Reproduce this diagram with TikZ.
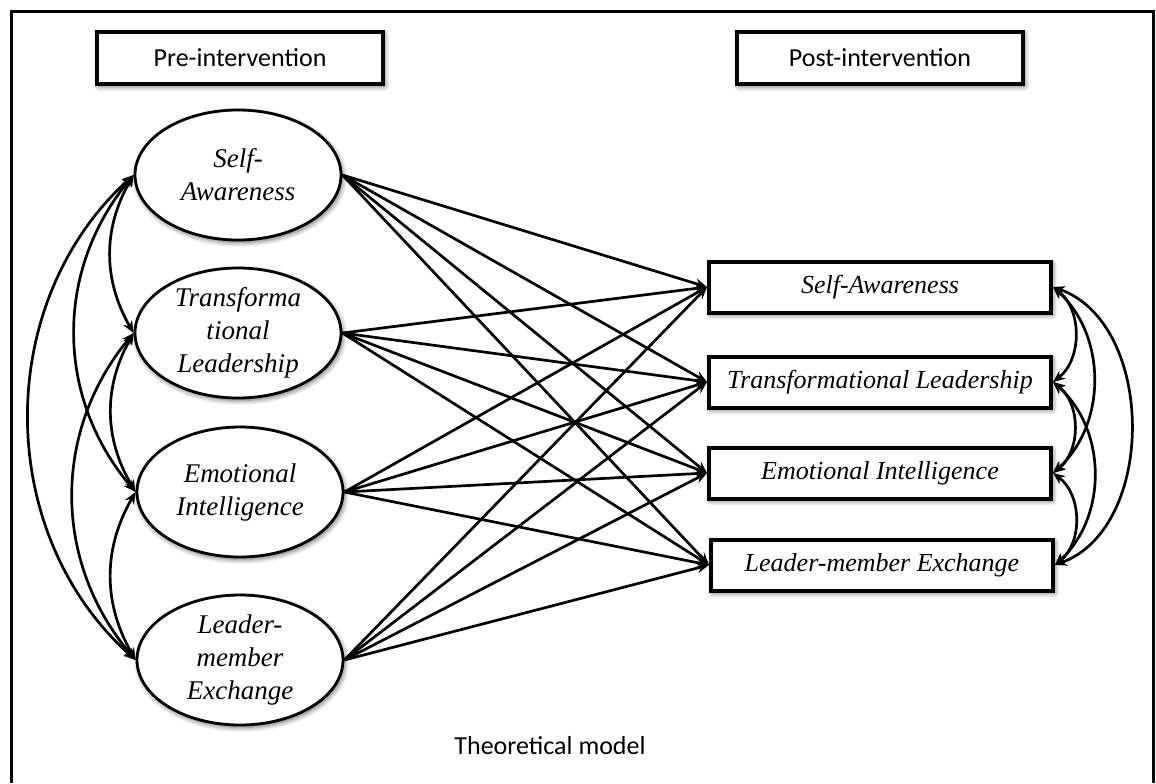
\documentclass[tikz,border=0pt]{standalone}
\usepackage{fontspec}
\setmainfont{Liberation Serif}
\newfontfamily\calibri{Carlito}
\usetikzlibrary{arrows.meta,shapes.geometric,shadows.blur}

\begin{document}
\begin{tikzpicture}[x=0.5pt, y=-0.5pt,
    soft/.style={blur shadow={shadow blur steps=6, shadow xshift=0.8pt, shadow yshift=-1.2pt, shadow opacity=60, shadow blur radius=2.5pt}},
    latent/.style={ellipse, draw, line width=1.4pt, fill=white, soft, minimum width=103pt, minimum height=65pt, inner sep=0pt, align=center, font=\itshape\fontsize{13.5}{16.5}\selectfont},
    outcome/.style={rectangle, draw, line width=2pt, fill=white, soft, minimum width=171pt, minimum height=25.5pt, font=\itshape\fontsize{13}{16}\selectfont},
    header/.style={rectangle, draw, line width=2pt, fill=white, soft, minimum width=143pt, minimum height=26pt, font=\calibri\fontsize{13}{15}\selectfont},
    path/.style={-{Stealth[length=6pt,width=5pt]}, line width=1.35pt},
    cov/.style={{Stealth[length=6pt,width=5pt]}-{Stealth[length=6pt,width=5pt]}, line width=1.35pt}]
    \useasboundingbox (0,0) rectangle (1156,783);
    \draw[line width=1.5pt] (11,783) -- (11,11) -- (1153,11) -- (1153,783);

    \node[header] (pre)  at (240,58) {Pre-intervention};
    \node[header] (post) at (880,58) {Post-intervention};

    \node[latent] (sa) at (238,175) {Self-\\Awareness};
    \node[latent] (tl) at (238,333) {Transforma\\tional\\Leadership};
    \node[latent] (ei) at (240,492) {Emotional\\Intelligence};
    \node[latent] (lm) at (240,660) {Leader-\\member\\Exchange};

    \node[outcome] (psa) at (880,287) {Self-Awareness};
    \node[outcome] (ptl) at (880,382) {Transformational Leadership};
    \node[outcome] (pei) at (880,473) {Emotional Intelligence};
    \node[outcome] (plm) at (882,565) {Leader-member Exchange};

    \node[font=\calibri\fontsize{13}{15}\selectfont] (title) at (550,746) {Theoretical model};

    \foreach \a in {sa,tl,ei,lm}
        \foreach \b in {psa,ptl,pei,plm}
            \draw[path] (\a.east) -- (\b.west);

    \draw[cov] (sa.west) to[bend right=30] (tl.west);
    \draw[cov] (tl.west) to[bend right=30] (ei.west);
    \draw[cov] (ei.west) to[bend right=30] (lm.west);
    \draw[cov] (sa.west) to[bend right=40] (ei.west);
    \draw[cov] (tl.west) to[bend right=40] (lm.west);
    \draw[cov] (sa.west) to[bend right=48] (lm.west);

    \draw[cov] (psa.east) to[bend left=52] (ptl.east);
    \draw[cov] (ptl.east) to[bend left=52] (pei.east);
    \draw[cov] (pei.east) to[bend left=52] (plm.east);
    \draw[cov] (psa.east) to[bend left=48] (pei.east);
    \draw[cov] (ptl.east) to[bend left=48] (plm.east);
    \draw[cov] (psa.east) to[bend left=70] (plm.east);
\end{tikzpicture}
\end{document}
